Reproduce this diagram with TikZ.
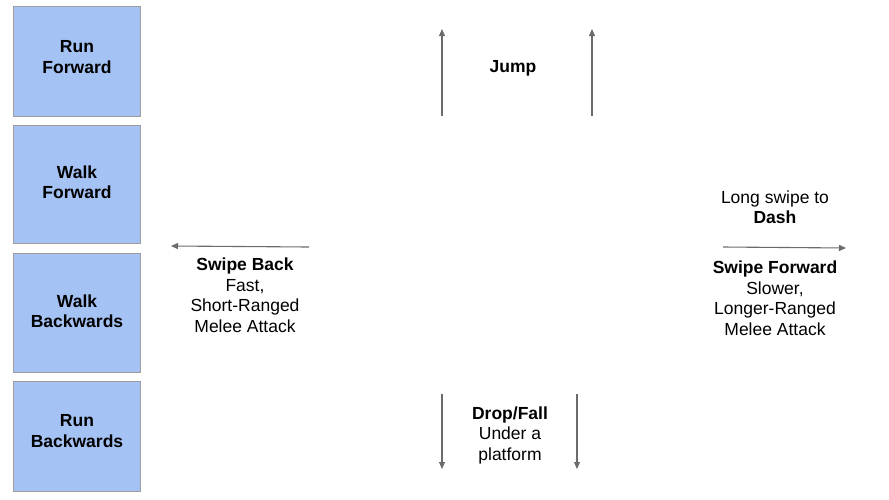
\documentclass[tikz,border=0pt]{standalone}
\usepackage{fontspec}
\setmainfont{Liberation Sans}
\usetikzlibrary{arrows.meta}
\definecolor{boxfill}{HTML}{A4C2F4}
\definecolor{boxline}{HTML}{9E9E9E}
\definecolor{arrgrey}{HTML}{6B6B6B}
\tikzset{
  movebox/.style={draw=boxline, line width=1pt, fill=boxfill, rectangle, minimum width=127pt, inner sep=0pt},
  lbl/.style={align=center, font=\fontsize{17.5}{20.5}\selectfont, inner sep=0pt},
  blbl/.style={lbl, font=\fontsize{17.5}{20.5}\selectfont\bfseries},
  arr/.style={draw=arrgrey, line width=1.1pt, -{Triangle[length=7pt,width=6pt]}}
}
\begin{document}
\begin{tikzpicture}[x=1pt,y=-1pt]
\useasboundingbox (0,0) rectangle (889,499);
% boxes
\node[movebox, minimum height=110pt] (b1) at (76.5,61) {};
\node[movebox, minimum height=118pt] (b2) at (76.5,184) {};
\node[movebox, minimum height=119pt] (b3) at (76.5,312.5) {};
\node[movebox, minimum height=110pt] (b4) at (76.5,436) {};
\node[blbl] (t1) at (77,57) {Run\\Forward};
\node[blbl] (t2) at (77,182) {Walk\\Forward};
\node[blbl] (t3) at (77,311) {Walk\\Backwards};
\node[blbl] (t4) at (77,431) {Run\\Backwards};
% jump
\coordinate (j1s) at (442,116); \coordinate (j1e) at (442,29);
\coordinate (j2s) at (592,116); \coordinate (j2e) at (592,29);
\draw[arr] (j1s) -- (j1e);
\draw[arr] (j2s) -- (j2e);
\node[blbl] (jump) at (513,68) {Jump};
% drop
\coordinate (d1s) at (442,394); \coordinate (d1e) at (442,469);
\coordinate (d2s) at (577,394); \coordinate (d2e) at (577,469);
\draw[arr] (d1s) -- (d1e);
\draw[arr] (d2s) -- (d2e);
\node[lbl] (drop) at (510,435) {\textbf{Drop/Fall}\\Under a\\platform};
% swipe back
\coordinate (sbs) at (309,247); \coordinate (sbe) at (171,246);
\draw[arr] (sbs) -- (sbe);
\node[lbl] (sback) at (245,295) {\textbf{Swipe Back}\\Fast,\\Short-Ranged\\Melee Attack};
% swipe forward
\coordinate (sfs) at (723,247); \coordinate (sfe) at (846,248);
\draw[arr] (sfs) -- (sfe);
\node[lbl] (dash) at (775,207) {Long swipe to\\\textbf{Dash}};
\node[lbl] (sfwd) at (775,298) {\textbf{Swipe Forward}\\Slower,\\Longer-Ranged\\Melee Attack};
\end{tikzpicture}
\end{document}
